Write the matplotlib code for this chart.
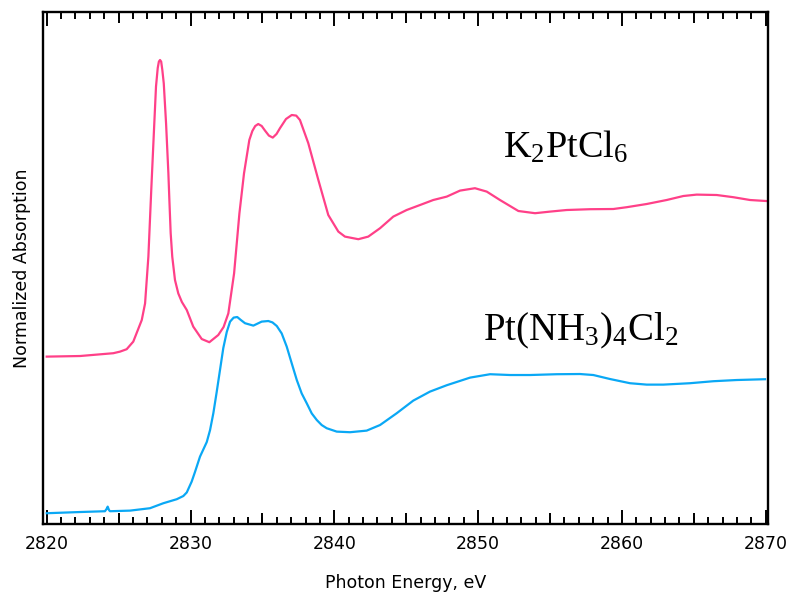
import matplotlib
matplotlib.use("Agg")
import matplotlib.pyplot as plt
from matplotlib.ticker import MultipleLocator, NullFormatter

plt.rcParams['font.family'] = ['DejaVu Sans']
plt.rcParams['mathtext.fontset'] = 'custom'
plt.rcParams['mathtext.rm'] = 'Liberation Serif'
plt.rcParams['mathtext.default'] = 'regular'

# K2PtCl6 spectrum (photon energy in eV, offset normalized absorption)
k2ptcl6_energy = [2820.00, 2822.32, 2824.63, 2825.10, 2825.56, 2826.02, 2826.61, 2826.84,
                  2827.07, 2827.27, 2827.46, 2827.60, 2827.72, 2827.80, 2827.88, 2827.96,
                  2828.04, 2828.14, 2828.30, 2828.46, 2828.53, 2828.62, 2828.73, 2828.92,
                  2829.15, 2829.40, 2829.74, 2830.19, 2830.78, 2831.31, 2831.93, 2832.30,
                  2832.63, 2833.03, 2833.40, 2833.72, 2834.09, 2834.30, 2834.50, 2834.71,
                  2834.95, 2835.18, 2835.45, 2835.72, 2835.98, 2836.22, 2836.64, 2837.04,
                  2837.35, 2837.61, 2838.19, 2838.89, 2839.58, 2840.28, 2840.74, 2841.67,
                  2842.36, 2843.18, 2844.10, 2845.03, 2845.96, 2846.88, 2847.82, 2848.74,
                  2849.78, 2850.60, 2851.52, 2852.80, 2853.96, 2855.00, 2856.16, 2857.78,
                  2859.40, 2860.33, 2861.72, 2863.11, 2864.27, 2865.20, 2866.59, 2867.75,
                  2868.91, 2870.02]
k2ptcl6_abs = [0.837, 0.840, 0.854, 0.862, 0.874, 0.912, 1.020, 1.103,
               1.337, 1.670, 1.970, 2.187, 2.280, 2.312, 2.320, 2.312,
               2.270, 2.203, 2.003, 1.755, 1.620, 1.455, 1.337, 1.220,
               1.153, 1.110, 1.070, 0.987, 0.925, 0.909, 0.945, 0.985,
               1.053, 1.253, 1.553, 1.753, 1.920, 1.965, 1.990, 2.000,
               1.990, 1.967, 1.942, 1.932, 1.950, 1.979, 2.025, 2.045,
               2.042, 2.020, 1.904, 1.720, 1.545, 1.462, 1.437, 1.424,
               1.437, 1.479, 1.537, 1.570, 1.595, 1.620, 1.637, 1.667,
               1.679, 1.662, 1.620, 1.565, 1.554, 1.562, 1.570, 1.574,
               1.575, 1.584, 1.600, 1.620, 1.640, 1.647, 1.645, 1.634,
               1.620, 1.615]

# Pt(NH3)4Cl2 spectrum
ptnh3_energy = [2820.00, 2822.32, 2824.05, 2824.16, 2824.24, 2824.33, 2824.40, 2825.79,
                2827.18, 2828.11, 2829.04, 2829.50, 2829.74, 2830.08, 2830.31, 2830.66,
                2831.13, 2831.36, 2831.59, 2831.82, 2832.05, 2832.28, 2832.52, 2832.75,
                2833.00, 2833.25, 2833.50, 2833.79, 2834.37, 2834.95, 2835.41, 2835.70,
                2836.00, 2836.34, 2836.69, 2837.04, 2837.39, 2837.73, 2838.08, 2838.43,
                2838.78, 2839.12, 2839.47, 2840.17, 2841.09, 2842.25, 2843.18, 2844.34,
                2845.49, 2846.65, 2847.82, 2849.44, 2850.83, 2852.22, 2853.61, 2855.47,
                2857.08, 2858.01, 2859.17, 2860.56, 2861.72, 2862.88, 2864.73, 2866.36,
                2867.98, 2869.95]
ptnh3_abs = [0.054, 0.060, 0.064, 0.075, 0.087, 0.070, 0.064, 0.067,
             0.079, 0.104, 0.124, 0.140, 0.158, 0.212, 0.260, 0.337,
             0.410, 0.470, 0.555, 0.660, 0.770, 0.880, 0.960, 1.012,
             1.032, 1.035, 1.020, 1.004, 0.992, 1.012, 1.015, 1.008,
             0.990, 0.953, 0.887, 0.803, 0.720, 0.653, 0.604, 0.553,
             0.520, 0.495, 0.479, 0.462, 0.459, 0.467, 0.495, 0.554,
             0.617, 0.662, 0.694, 0.732, 0.749, 0.745, 0.745, 0.749,
             0.750, 0.745, 0.725, 0.704, 0.697, 0.697, 0.704, 0.714,
             0.720, 0.724]

major_ticks = [2820, 2830, 2840, 2850, 2860, 2870]
mid_ticks = [2825, 2835, 2845, 2855, 2865]

fig = plt.figure(figsize=(7.87, 5.94), dpi=100)
ax = fig.add_axes([0.0546, 0.1178, 0.9213, 0.862])

ax.plot(k2ptcl6_energy, k2ptcl6_abs, color='#ff4088', lw=1.6)
ax.plot(ptnh3_energy, ptnh3_abs, color='#0aa8f5', lw=1.6)

ax.set_xlim(2819.74, 2870.16)
ax.set_ylim(0, 2.56)
ax.set_yticks([])

ax.set_xticks(major_ticks)
ax.xaxis.set_minor_locator(MultipleLocator(1))
ax.tick_params(axis='x', which='major', direction='in', length=10, width=1.4,
               top=True, labelsize=12.5, pad=8)
ax.tick_params(axis='x', which='minor', direction='in', length=5, width=1.4, top=True)
for s in ax.spines.values():
    s.set_linewidth(1.7)

# medium ticks every 5 eV
for side in ['bottom', 'top']:
    sec = ax.secondary_xaxis(side)
    sec.set_xticks(mid_ticks)
    sec.xaxis.set_major_formatter(NullFormatter())
    sec.tick_params(direction='in', length=7.7, width=1.4)
    sec.spines[side].set_visible(False)

ax.set_xlabel('Photon Energy, eV', fontsize=12.5)
ax.xaxis.set_label_coords(0.5, -0.097)
ax.set_ylabel('Normalized Absorption', fontsize=12.5)
ax.yaxis.set_label_coords(-0.016, 0.5)

ax.text(2851.73, 1.83, 'K$_2$PtCl$_6$', family='Liberation Serif', fontsize=27.5)
ax.text(2850.34, 0.92, 'Pt(NH$_3$)$_4$Cl$_2$', family='Liberation Serif', fontsize=28)

fig.savefig('out.png', dpi=100)
